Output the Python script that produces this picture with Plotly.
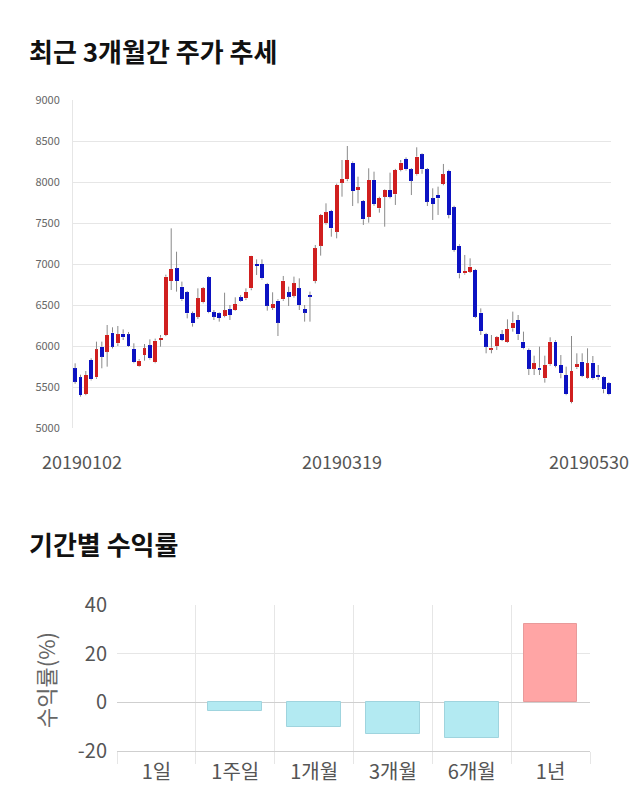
import plotly.graph_objects as go
import pandas as pd

# ---------------- data ----------------
holidays = ["2019-01-01", "2019-02-04", "2019-02-05", "2019-02-06",
            "2019-03-01", "2019-05-01", "2019-05-06"]
dates = [d.strftime("%Y%m%d") for d in pd.bdate_range("2019-01-02", "2019-05-30")
         if d.strftime("%Y-%m-%d") not in holidays]

opens = [5728, 5618, 5415, 5829, 5618, 5992, 5931, 6163, 6033, 6150,
         6142, 5963, 5760, 5890, 6008, 5801, 6073, 6134, 6793, 6947,
         6724, 6655, 6398, 6358, 6533, 6837, 6411, 6398, 6370, 6447,
         6439, 6594, 6581, 6703, 7000, 7000, 6756, 6468, 6553, 6569,
         6655, 6614, 6703, 6451, 6622, 6797, 7224, 7496, 7646, 7394,
         7992, 8033, 8236, 7902, 7768, 7577, 8024, 7679, 7821, 7902,
         7850, 8146, 8280, 8154, 8093, 8337, 8154, 7801, 7842, 7976,
         8134, 7691, 7224, 6886, 6907, 6927, 6407, 6142, 5959, 6000,
         6142, 6053, 6215, 6317, 6053, 5951, 5724, 5736, 5606, 5777,
         6053, 5768, 5646, 5321, 5740, 5809, 5614, 5797, 5646, 5618,
         5545]
highs = [5789, 5650, 5695, 5850, 6053, 6053, 6256, 6228, 6244, 6203,
         6171, 6033, 5840, 6024, 6081, 6090, 6134, 6870, 7435, 7150,
         6785, 6670, 6420, 6703, 6720, 6850, 6439, 6410, 6650, 6500,
         6594, 6620, 6703, 7100, 7057, 7057, 6770, 6655, 6570, 6854,
         6724, 6846, 6825, 6500, 6663, 7232, 7610, 7740, 7660, 7980,
         8268, 8439, 8250, 8065, 7780, 8167, 8126, 7820, 7910, 8114,
         8160, 8268, 8300, 8170, 8423, 8350, 8170, 7923, 7943, 8220,
         8150, 7710, 7240, 7110, 7069, 6940, 6459, 6160, 6134, 6120,
         6195, 6325, 6419, 6378, 6175, 5970, 5882, 5992, 5882, 6106,
         6070, 5890, 5748, 6122, 5911, 5911, 5972, 5878, 5768, 5630,
         5560]
lows = [5540, 5382, 5400, 5580, 5600, 5728, 5748, 5970, 6000, 6073,
        5990, 5790, 5748, 5821, 5835, 5790, 5992, 6120, 6683, 6663,
        6550, 6337, 6236, 6330, 6520, 6400, 6317, 6297, 6350, 6317,
        6430, 6540, 6560, 6680, 6866, 6810, 6431, 6439, 6122, 6550,
        6488, 6590, 6439, 6297, 6297, 6764, 7102, 7480, 7333, 7313,
        7821, 8010, 7707, 7740, 7476, 7504, 7710, 7626, 7455, 7800,
        7720, 8130, 8140, 7841, 8080, 8100, 7707, 7537, 7598, 7960,
        7557, 7150, 6825, 6870, 6890, 6340, 6134, 5911, 5911, 5951,
        6060, 6040, 6175, 6073, 5960, 5646, 5646, 5646, 5553, 5760,
        5740, 5606, 5400, 5301, 5720, 5620, 5600, 5590, 5585, 5423,
        5400]
closes = [5565, 5402, 5646, 5594, 5959, 5870, 6134, 5992, 6142, 6106,
          6000, 5801, 5821, 5972, 5850, 6065, 6102, 6846, 6939, 6793,
          6569, 6398, 6276, 6581, 6703, 6411, 6358, 6342, 6435, 6378,
          6512, 6553, 6659, 7098, 6976, 6825, 6492, 6508, 6285, 6797,
          6602, 6764, 6500, 6406, 6602, 7191, 7598, 7630, 7435, 7963,
          8033, 8268, 7890, 7935, 7545, 8024, 7732, 7801, 7902, 7821,
          8146, 8236, 8154, 8016, 8309, 8154, 7760, 7732, 7801, 8093,
          7598, 7171, 6886, 6915, 6968, 6358, 6183, 5992, 5980, 6106,
          6073, 6207, 6285, 6142, 5972, 5724, 5789, 5715, 5768, 6053,
          5760, 5667, 5411, 5695, 5776, 5638, 5789, 5606, 5626, 5472,
          5411]

price_ticks = [5000, 5500, 6000, 6500, 7000, 7500, 8000, 8500, 9000]
date_labels = ["20190102", "20190319", "20190530"]

periods = ["1일", "1주일", "1개월", "3개월", "6개월", "1년"]
returns = [0.0, -3.4, -10.1, -13.2, -14.7, 32.0]
return_ticks = [-20, 0, 20, 40]
return_tick_text = ["-20", "0", "20", "40"]

# ---------------- styles ----------------
UP = "#d01f1f"
DOWN = "#0c12c2"
WICK = "#8a8a8a"
KR = "Noto Sans CJK KR"
W, H = 640, 810

def px(x):
    return x / W

def py(y):
    return 1 - y / H

idx = list(range(len(opens)))
body_base = [min(o, c) for o, c in zip(opens, closes)]
body_h = [abs(c - o) for o, c in zip(opens, closes)]
body_col = [UP if c >= o else DOWN for o, c in zip(opens, closes)]

wx, wy = [], []
for i, o, h, l, c in zip(idx, opens, highs, lows, closes):
    wx += [i, i, None, i, i, None]
    wy += [max(o, c), h, None, min(o, c), l, None]

fig = go.Figure()

fig.add_trace(go.Scatter(x=wx, y=wy, mode="lines",
                         line=dict(color=WICK, width=1),
                         hoverinfo="skip", showlegend=False,
                         xaxis="x", yaxis="y"))
fig.add_trace(go.Bar(x=idx, y=body_h, base=body_base, width=0.74,
                     marker=dict(color=body_col, line=dict(width=0)),
                     customdata=dates, hovertemplate="%{customdata}<extra></extra>",
                     showlegend=False, xaxis="x", yaxis="y"))

bar_fill = ["#ffa5a5" if v > 0 else "#b3eaf2" for v in returns]
bar_line = ["#e89a9a" if v > 0 else "#9fd4de" for v in returns]
bar_lw = [1 if v != 0 else 0 for v in returns]
fig.add_trace(go.Bar(x=periods, y=returns, width=0.68,
                     marker=dict(color=bar_fill, line=dict(color=bar_line, width=bar_lw)),
                     showlegend=False, xaxis="x2", yaxis="y2"))

fig.update_layout(
    width=W, height=H, autosize=False,
    margin=dict(l=0, r=0, t=0, b=0, pad=0, autoexpand=False),
    paper_bgcolor="white", plot_bgcolor="white",
    bargap=0,
    font=dict(family=KR, color="#555"),
    xaxis=dict(domain=[px(73), px(611)], range=[-0.4, 100.4], automargin=False,
               showticklabels=False, showgrid=False, zeroline=False,
               showline=False, fixedrange=True),
    yaxis=dict(domain=[py(428), py(100)], range=[5000, 9000], automargin=False,
               tickvals=price_ticks, ticks="", ticklabelstandoff=10,
               tickfont=dict(size=11, color="#666", family=KR),
               showgrid=True, gridcolor="#e6e6e6", gridwidth=1,
               zeroline=False, showline=True, linecolor="#e6e6e6"),
    xaxis2=dict(domain=[px(117), px(590)], type="category", automargin=False,
                tickson="boundaries", ticks="outside", ticklen=12,
                ticklabelstandoff=3,
                tickcolor="#e6e6e6", showgrid=True, gridcolor="#e6e6e6",
                tickfont=dict(size=20, color="#555", family=KR),
                showline=True, linecolor="#cfcfcf", zeroline=False,
                anchor="y2"),
    yaxis2=dict(domain=[py(751), py(605)], range=[-20, 40], automargin=False,
                tickvals=return_ticks, ticktext=return_tick_text,
                ticks="", ticklabelstandoff=9,
                tickfont=dict(size=20, color="#555", family=KR),
                showgrid=True, gridcolor="#e6e6e6",
                zeroline=True, zerolinecolor="#cfcfcf", zerolinewidth=1,
                anchor="x2"),
)

annotations = [
    dict(text="<b>최근 3개월간 주가 추세</b>", x=px(27), y=py(50),
         xanchor="left", yanchor="middle",
         font=dict(size=26, color="#111", family=KR)),
    dict(text="<b>기간별 수익률</b>", x=px(27), y=py(543),
         xanchor="left", yanchor="middle",
         font=dict(size=26, color="#111", family=KR)),
    dict(text="수익률(%)", x=px(45), y=py(680), textangle=-90,
         xanchor="center", yanchor="middle",
         font=dict(size=22, color="#666", family=KR)),
]
label_pos = [dates.index(d) for d in date_labels]
shifts = [7, 0, -20]
for d, p, s in zip(date_labels, label_pos, shifts):
    annotations.append(dict(text=d, x=p, xref="x", y=py(461), yref="paper",
                            xanchor="center", yanchor="middle", xshift=s,
                            showarrow=False,
                            font=dict(size=18, color="#555", family=KR)))
for a in annotations:
    a.setdefault("xref", "paper")
    a.setdefault("yref", "paper")
    a.setdefault("showarrow", False)
fig.update_layout(annotations=annotations)

fig.write_html("out.html")
